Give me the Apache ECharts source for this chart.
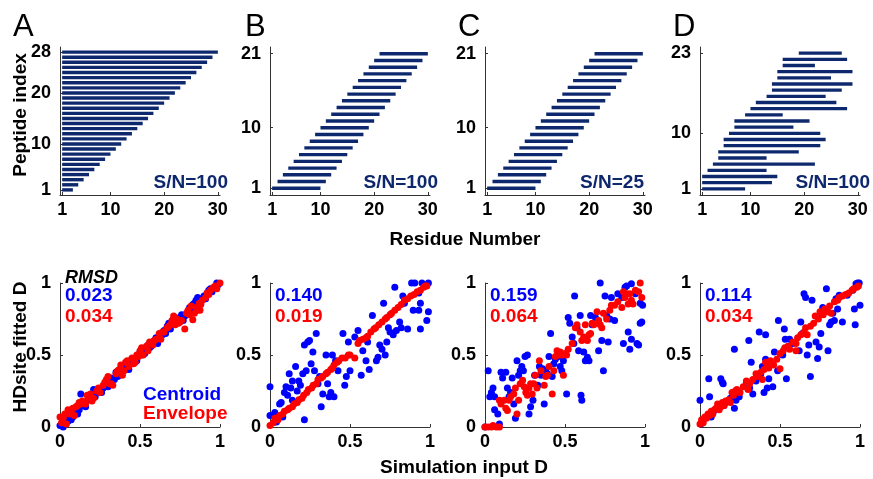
<!DOCTYPE html>
<html>
<head>
<meta charset="utf-8">
<script src="https://cdn.jsdelivr.net/npm/echarts@6/dist/echarts.min.js"></script>
<style>
html, body { margin: 0; padding: 0; background: #fff; }
#main { width: 873px; height: 479px; }
</style>
</head>
<body>
<div id="main"></div>
<script>
// peptide coverage, top row (start / end residue of each peptide, bottom to top)
var startA = [1,1,1,1,1,1,1,1,1,1,1,1,1,1,1,1,1,1,1,1,1,1,1,1,1,1,1,1];
var endA   = [3,4,5,6,7,8,9,10,11,12,13,14,15,16,17,18,19,20,21,22,23,24,25,26,27,28,29,30];
var startB = [1,2,3,4,5,6,7,8,9,10,11,12,13,14,15,16,17,18,19,20,21];
var endB   = [10,11,12,13,14,15,16,17,18,19,20,21,22,23,24,25,26,27,28,29,30];
var startC = [1,2,3,4,5,6,7,8,9,10,11,12,13,14,15,16,17,18,19,20,21];
var endC   = [10,11,12,13,14,15,16,17,18,19,20,21,22,23,24,25,26,27,28,29,30];
var startD = [1,1,1,2,3,4,4,5,5,6,7,7,9,10,11,13,14,14,15,15,16,16,19];
var endD   = [9,14,15,13,22,13,19,23,24,23,18,21,16,28,26,24,27,29,25,29,22,28,27];

var residueTicks = [1, 10, 20, 30];
var peptideTicks = [[1,10,20,28], [1,10,21], [1,10,21], [1,10,23]];
var snLabels = ['S/N=100', 'S/N=100', 'S/N=25', 'S/N=100'];

// bottom row: [simulation input D, HDsite fitted D]
var centroidA = [[0.0,0.01],[0.01,0.02],[0.02,0.03],[0.02,0.0],[0.03,0.02],[0.04,0.05],[0.05,0.04],[0.06,0.07],[0.07,0.05],[0.08,0.07],[0.09,0.10],[0.10,0.11],[0.11,0.09],[0.12,0.12],[0.13,0.23],[0.14,0.15],[0.15,0.17],[0.16,0.14],[0.18,0.19],[0.20,0.22],[0.21,0.26],[0.22,0.21],[0.23,0.24],[0.25,0.26],[0.26,0.24],[0.27,0.27],[0.29,0.31],[0.30,0.28],[0.31,0.33],[0.32,0.34],[0.34,0.33],[0.35,0.38],[0.36,0.35],[0.37,0.36],[0.39,0.40],[0.40,0.41],[0.42,0.43],[0.43,0.40],[0.44,0.46],[0.45,0.44],[0.47,0.47],[0.48,0.46],[0.49,0.50],[0.50,0.52],[0.51,0.50],[0.52,0.54],[0.53,0.51],[0.55,0.57],[0.56,0.55],[0.57,0.56],[0.59,0.60],[0.60,0.62],[0.61,0.58],[0.62,0.63],[0.64,0.64],[0.65,0.67],[0.66,0.65],[0.67,0.70],[0.68,0.72],[0.69,0.68],[0.70,0.73],[0.71,0.75],[0.72,0.76],[0.73,0.72],[0.75,0.76],[0.76,0.78],[0.77,0.74],[0.78,0.77],[0.80,0.80],[0.81,0.83],[0.82,0.82],[0.83,0.85],[0.84,0.86],[0.85,0.88],[0.86,0.90],[0.87,0.89],[0.88,0.87],[0.90,0.91],[0.91,0.89],[0.92,0.93],[0.93,0.95],[0.94,0.96],[0.95,0.94],[0.97,0.97],[0.98,1.0],[0.99,0.99]];
var envelopeA = [[0.0,0.07],[0.01,0.03],[0.02,0.06],[0.03,0.09],[0.04,0.02],[0.05,0.12],[0.06,0.09],[0.07,0.10],[0.08,0.13],[0.09,0.08],[0.10,0.14],[0.11,0.15],[0.12,0.17],[0.13,0.16],[0.14,0.18],[0.16,0.16],[0.17,0.22],[0.18,0.20],[0.19,0.23],[0.20,0.18],[0.21,0.20],[0.23,0.25],[0.24,0.27],[0.25,0.24],[0.27,0.29],[0.28,0.31],[0.29,0.33],[0.30,0.35],[0.31,0.30],[0.32,0.30],[0.33,0.29],[0.35,0.37],[0.36,0.39],[0.37,0.40],[0.38,0.43],[0.39,0.36],[0.40,0.39],[0.41,0.45],[0.42,0.46],[0.43,0.42],[0.45,0.48],[0.46,0.44],[0.47,0.45],[0.48,0.50],[0.49,0.49],[0.50,0.53],[0.51,0.55],[0.52,0.50],[0.54,0.56],[0.55,0.53],[0.56,0.59],[0.58,0.57],[0.59,0.60],[0.60,0.61],[0.62,0.65],[0.63,0.61],[0.64,0.66],[0.65,0.66],[0.67,0.69],[0.68,0.70],[0.69,0.71],[0.70,0.74],[0.71,0.77],[0.72,0.71],[0.73,0.75],[0.74,0.72],[0.75,0.73],[0.76,0.74],[0.78,0.68],[0.79,0.79],[0.80,0.81],[0.81,0.78],[0.82,0.84],[0.83,0.745],[0.84,0.79],[0.85,0.83],[0.86,0.81],[0.875,0.81],[0.87,0.86],[0.88,0.85],[0.89,0.88],[0.91,0.90],[0.92,0.93],[0.93,0.92],[0.94,0.95],[0.96,0.97],[0.97,0.98],[0.98,0.96],[1.0,1.0]];

var centroidB = [[0,0.08],[0,0.28],[0.03,0.10],[0.04,0.035],[0.06,0.16],[0.07,0.17],[0.08,0.07],[0.09,0.24],[0.10,0.28],[0.11,0.22],[0.12,0.37],[0.13,0.27],[0.14,0.185],[0.14,0.32],[0.16,0.42],[0.17,0.25],[0.18,0.32],[0.19,0.29],[0.205,0.37],[0.215,0.05],[0.215,0.57],[0.226,0.39],[0.236,0.59],[0.247,0.60],[0.257,0.44],[0.268,0.52],[0.278,0.39],[0.289,0.65],[0.30,0.30],[0.31,0.35],[0.32,0.14],[0.33,0.23],[0.35,0.50],[0.36,0.30],[0.37,0.21],[0.38,0.24],[0.39,0.50],[0.40,0.21],[0.41,0.46],[0.425,0.39],[0.456,0.65],[0.467,0.29],[0.477,0.35],[0.49,0.59],[0.50,0.39],[0.53,0.625],[0.55,0.67],[0.57,0.36],[0.58,0.53],[0.60,0.46],[0.61,0.59],[0.62,0.40],[0.64,0.775],[0.665,0.46],[0.675,0.485],[0.686,0.57],[0.70,0.54],[0.71,0.86],[0.72,0.50],[0.73,0.59],[0.74,0.69],[0.75,0.66],[0.77,0.64],[0.78,0.97],[0.79,0.67],[0.81,0.73],[0.82,0.69],[0.83,0.91],[0.84,0.86],[0.86,0.68],[0.885,1.0],[0.895,0.81],[0.905,1.0],[0.93,0.81],[0.94,0.86],[0.94,0.68],[0.95,1.0],[0.98,0.74],[0.99,0.80],[0.99,1.0],[0.93,0.93]];
var envelopeB = [[0,0.01],[0.02,0.03],[0.03,0.06],[0.05,0.05],[0.06,0.08],[0.08,0.09],[0.09,0.11],[0.11,0.12],[0.12,0.13],[0.14,0.14],[0.15,0.16],[0.17,0.17],[0.18,0.19],[0.20,0.20],[0.21,0.22],[0.23,0.24],[0.24,0.26],[0.26,0.27],[0.27,0.29],[0.29,0.30],[0.30,0.33],[0.32,0.34],[0.33,0.35],[0.35,0.37],[0.36,0.38],[0.38,0.40],[0.39,0.41],[0.40,0.43],[0.42,0.45],[0.43,0.46],[0.45,0.48],[0.47,0.48],[0.49,0.50],[0.50,0.50],[0.53,0.48],[0.55,0.58],[0.56,0.60],[0.58,0.61],[0.60,0.62],[0.61,0.63],[0.63,0.66],[0.65,0.68],[0.66,0.69],[0.68,0.71],[0.70,0.73],[0.72,0.75],[0.73,0.76],[0.75,0.78],[0.76,0.79],[0.78,0.81],[0.80,0.83],[0.82,0.85],[0.84,0.88],[0.86,0.89],[0.88,0.91],[0.90,0.92],[0.92,0.94],[0.94,0.95],[0.96,0.97],[0.97,0.98],[0.98,0.98]];

var centroidC = [[0,0],[0.02,0.39],[0.03,0.21],[0.04,0.24],[0.05,0.27],[0.06,0.21],[0.06,0.12],[0.08,0.09],[0.09,0.02],[0.10,0.38],[0.11,0.34],[0.13,0.38],[0.14,0.27],[0.15,0.21],[0.16,0.24],[0.17,0.34],[0.18,0.16],[0.19,0.06],[0.20,0.46],[0.21,0.36],[0.22,0.39],[0.23,0.42],[0.24,0.39],[0.25,0.49],[0.265,0.50],[0.275,0.09],[0.285,0.14],[0.30,0.185],[0.31,0.36],[0.33,0.29],[0.34,0.42],[0.35,0.36],[0.36,0.405],[0.37,0.16],[0.38,0.39],[0.39,0.37],[0.40,0.49],[0.41,0.65],[0.42,0.35],[0.43,0.44],[0.44,0.47],[0.46,0.49],[0.47,0.42],[0.48,0.39],[0.49,0.46],[0.51,0.23],[0.52,0.76],[0.53,0.72],[0.545,0.625],[0.555,0.58],[0.56,0.91],[0.575,0.69],[0.585,0.53],[0.595,0.775],[0.60,0.22],[0.605,0.185],[0.617,0.52],[0.627,0.46],[0.64,0.485],[0.65,0.46],[0.66,0.775],[0.67,0.71],[0.69,0.76],[0.71,0.53],[0.72,1.0],[0.73,0.60],[0.74,0.39],[0.75,0.91],[0.76,0.775],[0.77,0.59],[0.78,0.75],[0.79,0.90],[0.81,0.74],[0.83,0.925],[0.855,0.90],[0.865,0.58],[0.875,0.97],[0.885,0.98],[0.895,0.66],[0.905,0.54],[0.915,0.61],[0.94,0.925],[0.95,0.58],[0.96,0.57],[0.97,0.86],[0.97,0.72],[0.98,0.73],[0.985,0.845],[0.915,0.995]];
var envelopeC = [[0,0],[0.02,0],[0.04,0],[0.05,0.01],[0.07,0],[0.09,0],[0.09,0.185],[0.10,0.16],[0.12,0.185],[0.13,0.13],[0.14,0.115],[0.15,0.185],[0.16,0.21],[0.18,0.23],[0.19,0.27],[0.20,0.09],[0.21,0.185],[0.22,0.30],[0.235,0.325],[0.245,0.28],[0.255,0.24],[0.265,0.22],[0.275,0.27],[0.285,0.30],[0.295,0.23],[0.305,0.30],[0.315,0.36],[0.325,0.27],[0.34,0.46],[0.35,0.39],[0.37,0.29],[0.38,0.35],[0.39,0.36],[0.40,0.42],[0.42,0.23],[0.43,0.39],[0.44,0.49],[0.45,0.53],[0.46,0.50],[0.47,0.52],[0.48,0.50],[0.49,0.36],[0.50,0.51],[0.51,0.50],[0.52,0.54],[0.545,0.58],[0.565,0.69],[0.575,0.71],[0.595,0.66],[0.605,0.60],[0.617,0.625],[0.627,0.71],[0.64,0.60],[0.65,0.64],[0.66,0.65],[0.67,0.72],[0.68,0.71],[0.70,0.80],[0.71,0.74],[0.72,0.71],[0.73,0.69],[0.74,0.79],[0.76,0.75],[0.78,0.81],[0.79,0.845],[0.81,0.845],[0.83,0.87],[0.855,0.83],[0.865,0.94],[0.875,0.90],[0.885,0.925],[0.895,0.855],[0.905,0.925],[0.915,0.88],[0.925,0.855],[0.94,0.95],[0.96,0.94],[0.97,1.0],[0.98,0.90]];

var centroidD = [[0,0.185],[0.005,0.02],[0.02,0.05],[0.04,0.07],[0.055,0.335],[0.06,0.21],[0.07,0.07],[0.09,0.115],[0.11,0.13],[0.13,0.335],[0.14,0.31],[0.145,0.30],[0.15,0.15],[0.17,0.175],[0.19,0.20],[0.215,0.13],[0.215,0.54],[0.225,0.185],[0.245,0.21],[0.29,0.31],[0.305,0.60],[0.31,0.27],[0.32,0.45],[0.33,0.23],[0.35,0.32],[0.37,0.66],[0.38,0.37],[0.39,0.42],[0.40,0.24],[0.41,0.64],[0.41,0.47],[0.42,0.27],[0.43,0.335],[0.455,0.28],[0.465,0.52],[0.485,0.39],[0.49,0.74],[0.517,0.50],[0.527,0.68],[0.533,0.61],[0.54,0.335],[0.56,0.61],[0.58,0.58],[0.62,0.53],[0.63,0.73],[0.64,0.65],[0.65,0.925],[0.66,0.90],[0.67,0.50],[0.68,0.57],[0.69,0.35],[0.70,0.88],[0.725,0.59],[0.735,0.475],[0.745,0.555],[0.755,0.65],[0.76,0.79],[0.767,0.83],[0.79,0.96],[0.80,0.53],[0.81,0.71],[0.82,0.73],[0.83,0.79],[0.84,0.74],[0.85,0.89],[0.86,0.82],[0.87,0.915],[0.89,0.73],[0.92,0.915],[0.955,0.95],[0.965,0.82],[0.97,0.71],[0.975,0.995],[0.985,1.0],[0.995,1.0],[1.0,0.845]];
var envelopeD = [[0,0.02],[0.01,0.05],[0.02,0.03],[0.03,0.07],[0.04,0.06],[0.05,0.09],[0.06,0.08],[0.07,0.11],[0.08,0.09],[0.09,0.12],[0.10,0.13],[0.11,0.16],[0.12,0.12],[0.13,0.14],[0.14,0.17],[0.15,0.15],[0.16,0.18],[0.18,0.19],[0.19,0.17],[0.20,0.24],[0.21,0.22],[0.22,0.25],[0.23,0.26],[0.25,0.24],[0.27,0.28],[0.29,0.32],[0.30,0.26],[0.31,0.30],[0.33,0.33],[0.35,0.37],[0.36,0.35],[0.38,0.38],[0.39,0.33],[0.40,0.40],[0.41,0.45],[0.42,0.43],[0.43,0.41],[0.44,0.46],[0.46,0.43],[0.48,0.47],[0.50,0.405],[0.50,0.51],[0.52,0.53],[0.53,0.55],[0.55,0.56],[0.56,0.54],[0.58,0.59],[0.60,0.53],[0.60,0.58],[0.61,0.62],[0.63,0.64],[0.65,0.66],[0.66,0.69],[0.67,0.64],[0.69,0.70],[0.71,0.72],[0.72,0.77],[0.74,0.75],[0.75,0.80],[0.77,0.78],[0.78,0.82],[0.80,0.80],[0.81,0.84],[0.82,0.79],[0.84,0.87],[0.86,0.88],[0.87,0.90],[0.89,0.91],[0.91,0.92],[0.93,0.93],[0.95,0.95],[0.96,0.96],[0.98,0.97],[0.99,0.98]];

var rmsdCentroid = ['0.023', '0.140', '0.159', '0.114'];
var rmsdEnvelope = ['0.034', '0.019', '0.064', '0.034'];
var unitTicks = [0, 0.5, 1];

var navy = '#0e286e';
var blue = '#0000ff';
var red = '#ff0000';
var fontName = '"Liberation Sans", Arial, sans-serif';

var myChart = echarts.init(document.getElementById('main'));

var lefts = [60, 270, 485, 700];
var starts = [startA, startB, startC, startD];
var ends = [endA, endB, endC, endD];
var centroids = [centroidA, centroidB, centroidC, centroidD];
var envelopes = [envelopeA, envelopeB, envelopeC, envelopeD];

var grids = [], xAxes = [], yAxes = [], series = [], graphics = [];

function axisStyle(ticks) {
  return {
    axisLine: { show: true, lineStyle: { color: '#333', width: 1 } },
    axisTick: { show: true, inside: true, length: 3, customValues: ticks, lineStyle: { color: '#333' } },
    axisLabel: { customValues: ticks, color: '#000', fontWeight: 'bold', fontSize: 18, fontFamily: fontName },
    splitLine: { show: false }
  };
}

function txt(text, x, y, opt) {
  opt = opt || {};
  return {
    type: 'text',
    x: x, y: y,
    rotation: opt.rotation || 0,
    style: {
      text: text,
      fill: opt.color || '#000',
      font: (opt.style || 'normal') + ' ' + (opt.weight || 'bold') + ' ' + (opt.size || 19) + 'px ' + fontName,
      textAlign: opt.align || 'left',
      textVerticalAlign: 'middle'
    },
    silent: true
  };
}

for (var k = 0; k < 4; k++) {
  // top row: peptide maps
  grids.push({ left: lefts[k], top: 47, width: 160, height: 148 });
  var xa = axisStyle(residueTicks);
  xa.type = 'value'; xa.gridIndex = k; xa.min = 0.6; xa.max = 30.4;
  xa.axisLabel.margin = 6;
  xAxes.push(xa);
  var pt = peptideTicks[k];
  var ya = axisStyle(pt);
  ya.type = 'value'; ya.gridIndex = k; ya.min = 0; ya.max = starts[k].length + 1;
  ya.axisLabel.margin = 9;
  yAxes.push(ya);

  var segs = [];
  for (var i = 0; i < starts[k].length; i++) {
    segs.push([starts[k][i], ends[k][i], i + 1]);
  }
  series.push({
    type: 'custom',
    xAxisIndex: k, yAxisIndex: k,
    data: segs,
    encode: { x: [0, 1], y: 2 },
    clip: false,
    silent: true,
    renderItem: function (params, api) {
      var p1 = api.coord([api.value(0), api.value(2)]);
      var p2 = api.coord([api.value(1), api.value(2)]);
      return {
        type: 'line',
        shape: { x1: p1[0], y1: p1[1], x2: p2[0], y2: p2[1] },
        style: { stroke: navy, lineWidth: 3.4 }
      };
    }
  });
}

for (var k = 0; k < 4; k++) {
  // bottom row: fitted vs simulated
  var g = k + 4;
  grids.push({ left: lefts[k], top: 283, width: 160, height: 144 });
  var xb = axisStyle(unitTicks);
  xb.type = 'value'; xb.gridIndex = g; xb.min = 0; xb.max = 1;
  xb.axisLabel.margin = 6;
  xAxes.push(xb);
  var yb = axisStyle(unitTicks);
  yb.type = 'value'; yb.gridIndex = g; yb.min = 0; yb.max = 1;
  yb.axisLabel.margin = 9;
  yAxes.push(yb);

  series.push({
    type: 'scatter', name: 'Centroid', xAxisIndex: g, yAxisIndex: g,
    data: centroids[k], symbolSize: 7, clip: false, silent: true,
    itemStyle: { color: blue, opacity: 1 }
  });
  series.push({
    type: 'scatter', name: 'Envelope', xAxisIndex: g, yAxisIndex: g,
    data: envelopes[k], symbolSize: 7, clip: false, silent: true,
    itemStyle: { color: red, opacity: 1 }
  });
}

// panel letters, titles and annotations
var letterX = [13, 245, 458, 673];
var letters = ['A', 'B', 'C', 'D'];
var snRight = [228, 438, 644, 870];
for (var k = 0; k < 4; k++) {
  graphics.push(txt(letters[k], letterX[k], 27, { weight: 'normal', size: 31 }));
  graphics.push(txt(snLabels[k], snRight[k], 183, { color: navy, align: 'right' }));
  graphics.push(txt(rmsdCentroid[k], lefts[k] + 5, 296, { color: blue }));
  graphics.push(txt(rmsdEnvelope[k], lefts[k] + 5, 317, { color: red }));
}
graphics.push(txt('RMSD', 65, 278, { style: 'italic', size: 18 }));
graphics.push(txt('Centroid', 143, 395, { color: blue }));
graphics.push(txt('Envelope', 143, 414, { color: red }));
graphics.push(txt('Peptide index', 21, 115, { align: 'center', rotation: Math.PI / 2 }));
graphics.push(txt('HDsite fitted D', 21, 347, { align: 'center', rotation: Math.PI / 2 }));
graphics.push(txt('Residue Number', 465, 240, { align: 'center' }));
graphics.push(txt('Simulation input D', 464, 468, { align: 'center' }));

var option = {
  animation: false,
  backgroundColor: '#fff',
  grid: grids,
  xAxis: xAxes,
  yAxis: yAxes,
  series: series,
  graphic: graphics
};
myChart.setOption(option);
</script>
</body>
</html>
